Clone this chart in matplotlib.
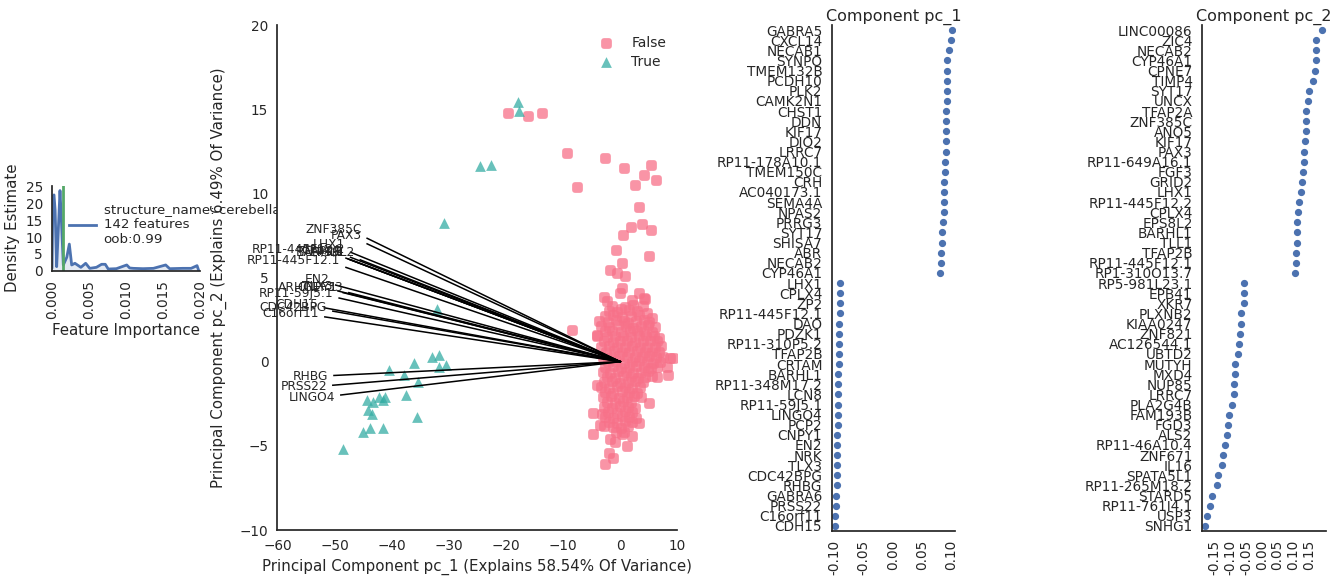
import matplotlib
matplotlib.use("Agg")
import matplotlib.pyplot as plt
from matplotlib.patches import FancyBboxPatch
from matplotlib.path import Path

# ---------------- data ----------------
dens_x = [0.0, 0.00012, 0.00027, 0.00042, 0.00063, 0.00085, 0.00108, 0.00125, 0.00153,
          0.0020, 0.00234, 0.00266, 0.0031, 0.0039, 0.00455, 0.0051, 0.0060, 0.0067,
          0.0072, 0.0076, 0.0087, 0.0101, 0.0105, 0.0110, 0.0123, 0.0137, 0.01536,
          0.0159, 0.0177, 0.0188, 0.0196, 0.0198]
dens_y = [1.0, 22.0, 22.5, 18.0, 1.2, 12.0, 23.8, 16.0, 1.7,
          4.0, 7.9, 1.7, 2.2, 1.0, 2.2, 0.7, 1.0, 1.9,
          1.9, 0.5, 0.6, 1.7, 0.8, 0.7, 0.6, 0.7, 1.7,
          0.6, 0.7, 0.7, 1.5, 0.2]
importance_cut = 0.00145
legend_text = "structure_name: cerebellar cortex\n142 features\noob:0.99"

false_pts = [
    (-19.65, 14.8), (-16.15, 14.6), (-13.7, 14.8), (-9.3, 12.4), (-7.6, 10.4), (-2.6, 12.1),
    (0.7, 11.5), (5.4, 11.7), (4.2, 11.1), (6.2, 10.8), (2.6, 10.5), (3.3, 9.2), (1.9, 8.0),
    (3.85, 8.15), (5.4, 7.8), (0.5, 7.55), (-0.7, 6.65), (5.1, 6.25), (0.35, 5.85),
    (-1.75, 5.45), (-0.5, 5.25), (0.9, 5.07),
    (0.3, 4.4), (0.0, 4.1), (-2.9, 3.85), (-2.3, 3.6), (3.2, 4.1), (4.4, 3.7), (4.2, 3.8),
    (2.05, 3.65), (0.1, 3.1), (-8.45, 1.9), (-4.1, 1.6),
    (8.75, 0.2), (9.3, 0.2), (8.2, -0.3), (8.3, -0.77), (6.4, -0.9), (-4.1, -1.37),
    (4.95, -2.45), (-4.7, -3.05), (-3.2, -3.1), (-3.5, -3.75), (-2.9, -3.85), (-4.7, -4.3),
    (3.2, -3.65), (2.05, -4.4), (1.2, -5.0), (-0.9, -4.8), (-1.75, -4.6), (-2.05, -5.4),
    (-1.2, -5.7), (-2.6, -6.1), (0.3, -4.3),
    (-1.5, 3.3), (0.8, 3.25), (2.2, 3.35), (3.9, 3.3),
    (-2.0, 3.0), (-0.5, 2.95), (1.5, 3.05), (2.9, 3.0), (4.6, 2.9),
    (-2.6, 2.7), (-1.2, 2.75), (0.3, 2.65), (1.9, 2.7), (3.3, 2.75), (5.5, 2.6),
    (-3.8, 2.4), (-2.2, 2.35), (-0.8, 2.45), (0.6, 2.4), (1.4, 2.3), (2.7, 2.4), (4.1, 2.45), (5.0, 2.35),
    (-3.3, 2.1), (-1.9, 2.05), (-0.4, 2.15), (1.0, 2.1), (2.3, 2.0), (3.6, 2.1), (4.8, 2.15), (6.0, 2.05),
    (-2.7, 1.8), (-1.5, 1.85), (0.2, 1.75), (1.7, 1.8), (2.9, 1.85), (4.2, 1.8), (5.6, 1.75),
    (-4.0, 1.5), (-2.3, 1.45), (-0.9, 1.55), (0.5, 1.5), (1.9, 1.45), (3.3, 1.5), (4.5, 1.55), (5.9, 1.5), (6.8, 1.4),
    (-2.9, 1.2), (-1.3, 1.15), (0.0, 1.25), (1.2, 1.2), (2.6, 1.15), (3.9, 1.2), (5.2, 1.25), (6.4, 1.2),
    (-3.4, 0.9), (-2.0, 0.95), (-0.6, 0.85), (0.8, 0.9), (2.1, 0.95), (3.4, 0.9), (4.7, 0.85), (6.0, 0.9), (7.2, 0.95),
    (-2.5, 0.6), (-1.1, 0.65), (0.3, 0.55), (1.6, 0.6), (3.0, 0.65), (4.3, 0.6), (5.5, 0.55), (6.7, 0.6),
    (-3.0, 0.3), (-1.7, 0.25), (-0.2, 0.35), (1.1, 0.3), (2.5, 0.25), (3.8, 0.3), (5.0, 0.35), (6.2, 0.3), (7.5, 0.25),
    (-2.2, 0.0), (-0.7, 0.05), (0.6, -0.05), (2.0, 0.0), (3.3, 0.05), (4.6, 0.0), (5.8, -0.05), (7.0, 0.0),
    (-2.7, -0.3), (-1.3, -0.25), (0.1, -0.35), (1.5, -0.3), (2.8, -0.25), (4.1, -0.3), (5.3, -0.35), (6.5, -0.3),
    (-3.1, -0.6), (-1.8, -0.65), (-0.4, -0.55), (1.0, -0.6), (2.3, -0.65), (3.6, -0.6), (4.9, -0.55),
    (-2.4, -0.9), (-1.0, -0.95), (0.4, -0.85), (1.8, -0.9), (3.1, -0.95), (4.4, -0.9), (5.6, -0.85),
    (-2.9, -1.2), (-1.5, -1.15), (-0.1, -1.25), (1.3, -1.2), (2.6, -1.15), (3.9, -1.2),
    (-3.3, -1.5), (-2.0, -1.55), (-0.6, -1.45), (0.8, -1.5), (2.1, -1.55), (3.4, -1.5),
    (-2.6, -1.8), (-1.2, -1.85), (0.3, -1.75), (1.6, -1.8), (2.9, -1.85),
    (-3.1, -2.1), (-1.7, -2.05), (-0.3, -2.15), (1.1, -2.1), (2.4, -2.05), (3.7, -2.1),
    (-2.4, -2.4), (-1.0, -2.45), (0.5, -2.35), (1.8, -2.4),
    (-2.9, -2.7), (-1.5, -2.75), (0.0, -2.65), (1.3, -2.7), (2.6, -2.75),
    (-2.1, -3.0), (-0.6, -3.05), (0.8, -2.95), (2.0, -3.0),
    (-2.6, -3.3), (-1.2, -3.35), (0.3, -3.25), (1.5, -3.3), (2.7, -3.35),
    (-1.9, -3.6), (-0.5, -3.65), (0.9, -3.55), (2.0, -3.6),
    (-1.3, -3.9), (0.2, -3.95), (1.4, -3.85),
    (-0.7, -4.2), (0.6, -4.15),
]
true_pts = [
    (-17.9, 15.4), (-17.7, 14.9), (-24.6, 11.6), (-22.6, 11.7), (-30.9, 8.25), (-32.1, 3.1),
    (-33.0, 0.3), (-31.7, 0.37), (-30.5, -0.2), (-31.7, -0.3), (-36.1, -0.1), (-40.5, -0.5),
    (-37.9, -0.8), (-35.4, -1.2), (-37.5, -2.0), (-44.3, -2.3), (-43.3, -2.4), (-42.2, -2.1),
    (-41.2, -2.1), (-41.6, -2.3), (-44.2, -2.85), (-43.5, -3.1), (-45.0, -4.2), (-43.75, -3.95),
    (-41.5, -3.95), (-35.6, -3.3), (-48.5, -5.2),
]
load_names = ["ZNF385C", "PAX3", "LHX1", "RP11-445F12.2", "CPLX4", "TFAP2B", "BARHL1",
              "EPS8L2", "RP11-445F12.1", "EN2", "TLX3", "CNPY1", "ARHGEF33", "RP11-59J5.1",
              "CDH15", "CDC42BPG", "C16orf11", "RHBG", "PRSS22", "LINGO4"]
load_x = [-44.3, -44.3, -47.2, -47.2, -48.0, -47.6, -47.2, -45.5, -48.0, -49.8, -49.4, -48.5,
          -47.5, -49.2, -51.8, -50.3, -51.7, -50.1, -50.3, -48.9]
load_y = [7.33, 7.0, 6.5, 6.2, 6.15, 6.1, 6.05, 6.05, 5.6, 4.55, 4.2, 4.1, 4.1, 3.78,
          3.2, 3.0, 2.66, -0.82, -1.4, -1.98]

pc1_genes = ["GABRA5", "CXCL14", "NECAB1", "SYNPO", "TMEM132B", "PCDH10", "PLK2", "CAMK2N1",
             "CHST1", "DDN", "KIF17", "DIO2", "LRRC7", "RP11-178A10.1", "TMEM150C", "CRH",
             "AC040173.1", "SEMA4A", "NPAS2", "PRRG3", "SYT17", "SHISA7", "ABR", "NECAB2",
             "CYP46A1", "LHX1", "CPLX4", "ZP2", "RP11-445F12.1", "DAO", "PDZK1",
             "RP11-310P5.2", "TFAP2B", "CRTAM", "BARHL1", "RP11-348M17.2", "LCN8",
             "RP11-59J5.1", "LINGO4", "PCP2", "CNPY1", "EN2", "NRK", "TLX3", "CDC42BPG",
             "RHBG", "GABRA6", "PRSS22", "C16orf11", "CDH15"]
pc1_vals = [0.100, 0.0985, 0.095, 0.092, 0.092, 0.092, 0.092, 0.092, 0.0905, 0.0905, 0.0905,
            0.0905, 0.0905, 0.0887, 0.0887, 0.087, 0.087, 0.087, 0.087, 0.0853, 0.0836,
            0.0836, 0.0814, 0.0814, 0.0797,
            -0.0904, -0.0904, -0.0904, -0.0904, -0.0921, -0.0921, -0.0921, -0.0921, -0.0921,
            -0.0933, -0.0933, -0.0933, -0.0944, -0.0944, -0.0944, -0.096, -0.096, -0.096,
            -0.096, -0.096, -0.096, -0.0978, -0.0978, -0.0995, -0.0995]
pc2_genes = ["LINC00086", "ZIC4", "NECAB2", "CYP46A1", "CPNE7", "TIMP4", "SYT17", "UNCX",
             "TFAP2A", "ZNF385C", "ANO5", "KIF17", "PAX3", "RP11-649A16.1", "FGF3", "GRID2",
             "LHX1", "RP11-445F12.2", "CPLX4", "EPS8L2", "BARHL1", "TLL1", "TFAP2B",
             "RP11-445F12.1", "RP1-310O13.7", "RP5-981L23.1", "EPB41", "XKR7", "PLXNB2",
             "KIAA0247", "ZNF821", "AC126544.1", "UBTD2", "MUTYH", "MXD4", "NUP85", "LRRC7",
             "PLA2G4B", "FAM193B", "FGD3", "ALS2", "RP11-46A10.4", "ZNF671", "IL16",
             "SPATA5L1", "RP11-265M18.2", "STARD5", "RP11-761I4.1", "USP3", "SNHG1"]
pc2_vals = [0.193, 0.172, 0.172, 0.172, 0.170, 0.163, 0.150, 0.147, 0.140, 0.140, 0.140,
            0.138, 0.135, 0.135, 0.1315, 0.127, 0.124, 0.118, 0.1155, 0.1125, 0.111, 0.111,
            0.109, 0.109, 0.106,
            -0.057, -0.057, -0.057, -0.066, -0.066, -0.069, -0.072, -0.075, -0.086, -0.086,
            -0.089, -0.089, -0.0945, -0.104, -0.107, -0.1115, -0.118, -0.124, -0.127,
            -0.140, -0.143, -0.159, -0.166, -0.175, -0.1815]

# ---------------- style ----------------
TXT = "#262626"
plt.rcParams["font.family"] = ["DejaVu Sans"]
plt.rcParams.update({"text.color": TXT, "axes.labelcolor": TXT, "xtick.color": TXT,
                     "ytick.color": TXT, "axes.edgecolor": TXT, "axes.linewidth": 1.25})
TICK_FS = 9.8
LABEL_FS = 10.8
BLUE = "#4c72b0"
GREEN = "#55a868"
PINK = "#f77189"
TEAL = "#36ada4"

W, H = 1338, 587
fig = plt.figure(figsize=(W / 100, H / 100), dpi=100)


def ax_px(l, t, r, b):
    return fig.add_axes([l / W, 1 - b / H, (r - l) / W, (b - t) / H])


def clean(ax):
    for s in ("top", "right"):
        ax.spines[s].set_visible(False)
    ax.tick_params(length=0, labelsize=TICK_FS, pad=6.5)


# rounded-square marker shape
_box = FancyBboxPatch((-0.5, -0.5), 1.0, 1.0, boxstyle="round,pad=0,rounding_size=0.3")
ROUND_SQ = Path(_box.get_path().vertices.copy(), _box.get_path().codes)

# ---- density panel ----
axd = ax_px(52, 185.5, 200, 270.7)
clean(axd)
axd.fill_between(dens_x, dens_y, color=BLUE, alpha=0.15, lw=0)
axd.plot(dens_x, dens_y, color=BLUE, lw=2, label=legend_text)
axd.axvline(importance_cut, color=GREEN, lw=2)
axd.set_xlim(0, 0.02)
axd.set_ylim(0, 25.3)
axd.set_xticks([0.0, 0.005, 0.010, 0.015, 0.020])
axd.set_xticklabels(["0.000", "0.005", "0.010", "0.015", "0.020"], rotation=90)
axd.set_yticks([0, 5, 10, 15, 20, 25])
axd.set_xlabel("Feature Importance", fontsize=LABEL_FS, labelpad=3)
axd.set_ylabel("Density Estimate", fontsize=LABEL_FS, labelpad=4)
axd.legend(loc="center left", bbox_to_anchor=(0.115, 0.545), frameon=False,
           fontsize=9.6, borderaxespad=0, borderpad=0, handlelength=2.0,
           handletextpad=0.6)

# ---- PCA scatter ----
axs = ax_px(277.4, 25, 677.4, 530)
clean(axs)
axs.scatter([p[0] for p in false_pts], [p[1] for p in false_pts], marker=ROUND_SQ, s=60,
            color=PINK, linewidths=0, alpha=0.75, label="False", zorder=2)
axs.scatter([p[0] for p in true_pts], [p[1] for p in true_pts], marker="^", s=60,
            color=TEAL, linewidths=0, alpha=0.75, label="True", zorder=2)
for name, lx, ly in zip(load_names, load_x, load_y):
    axs.plot([0, lx], [0, ly], color="black", lw=1.1, zorder=3)
    axs.text(lx * 1.02, ly * 1.07, name, ha="right", va="center", fontsize=8.8, zorder=4)
axs.set_xlim(-60, 10)
axs.set_ylim(-10, 20)
axs.set_xticks([-60, -50, -40, -30, -20, -10, 0, 10])
axs.set_yticks([-10, -5, 0, 5, 10, 15, 20])
axs.set_xlabel("Principal Component pc_1 (Explains 58.54% Of Variance)", fontsize=LABEL_FS,
               labelpad=4)
axs.set_ylabel("Principal Component pc_2 (Explains 6.49% Of Variance)", fontsize=LABEL_FS,
               labelpad=9)
axs.legend(loc="upper right", frameon=False, fontsize=10, scatterpoints=1,
           borderaxespad=0.4, labelspacing=0.35)

# ---- component panels ----
def comp_panel(rect, genes, vals, xlim, xticks, title):
    ax = ax_px(*rect)
    clean(ax)
    pos = list(range(len(genes)))
    ax.plot(vals, pos, "o", color=BLUE, ms=4.2, mec=BLUE, ls="none")
    ax.set_ylim(len(genes) - 0.5, -0.5)
    ax.set_yticks(pos)
    ax.set_yticklabels(genes)
    ax.set_xlim(*xlim)
    ax.set_xticks(xticks)
    ax.set_xticklabels(["%.2f" % t if abs(t) > 1e-9 else "0.00" for t in xticks], rotation=90)
    ax.set_title(title, fontsize=11.5, pad=3)
    ax.tick_params(axis="y", pad=7)
    return ax


comp_panel((832, 25, 955, 531), pc1_genes, pc1_vals, (-0.1041, 0.1058),
           [-0.10, -0.05, 0.0, 0.05, 0.10], "Component pc_1")
comp_panel((1202.3, 25, 1325.7, 531), pc2_genes, pc2_vals, (-0.1892, 0.2038),
           [-0.15, -0.10, -0.05, 0.0, 0.05, 0.10, 0.15], "Component pc_2")

fig.savefig("out.png", dpi=100)
